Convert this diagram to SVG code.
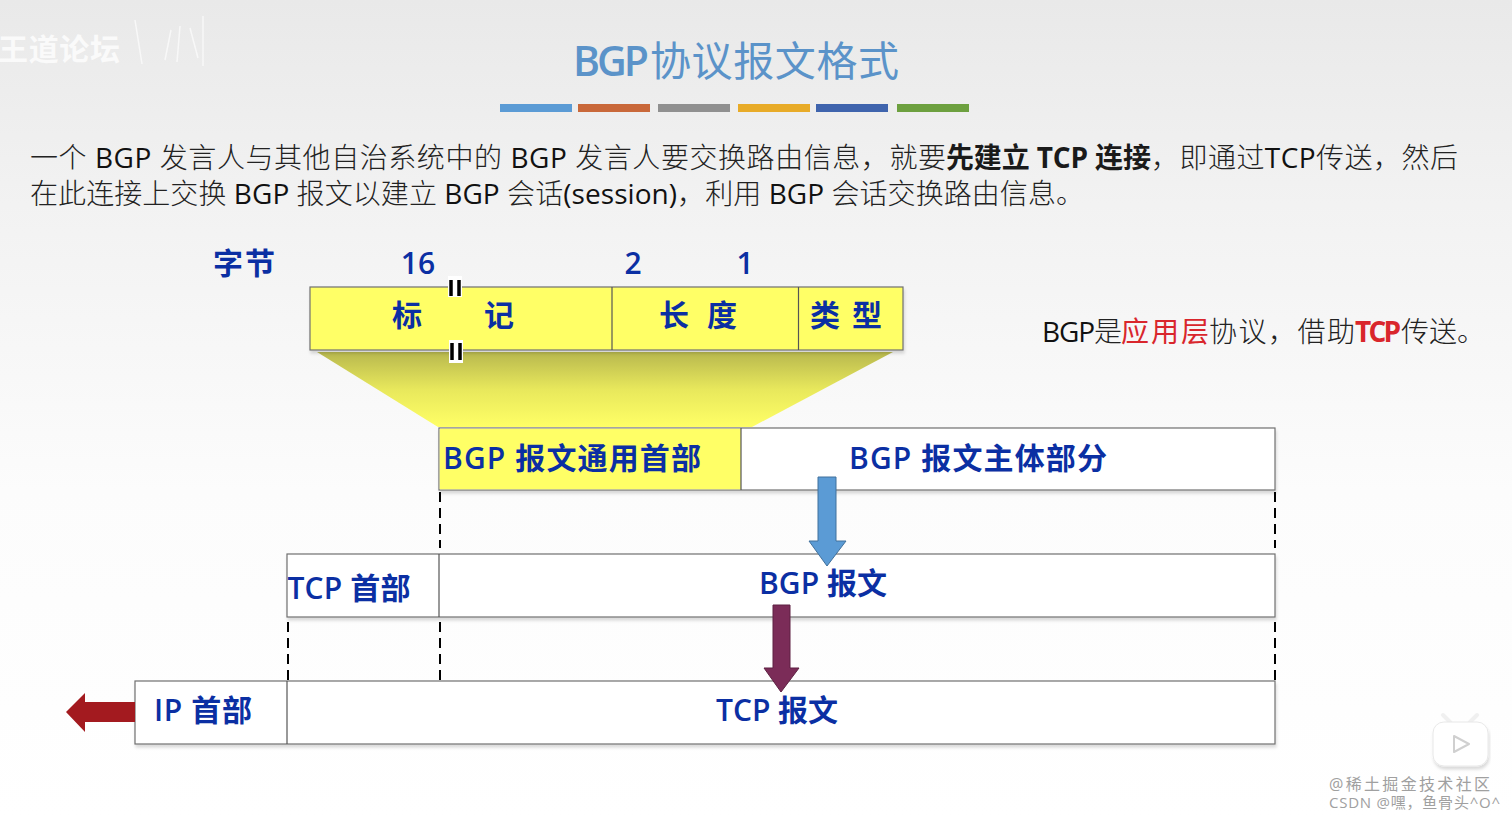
<svg xmlns="http://www.w3.org/2000/svg" width="1512" height="818" viewBox="0 0 1512 818">
<style>
text{font-family:"Open Sans","Noto Sans CJK SC",sans-serif}
.b{fill:#222;font-size:28px;font-weight:300}
.s{fill:#1a1a1a;font-size:28px;font-weight:700}
.lat{font-weight:400;fill:#111}
.l{fill:#0b2fa3;font-size:30px;font-weight:600;text-anchor:middle}
.box{stroke:#707070;stroke-width:1.2;fill:#fff;filter:url(#sh)}
.y{fill:#ffff66}
.d{stroke:#000;stroke-width:2;stroke-dasharray:10 6;fill:none}
.v{stroke:#555;stroke-width:1.2}
.wm{fill:#a0a0a0;font-size:16px}
.tt{font-size:41px;fill:#5b93c9}
</style>
<defs>
<linearGradient id="bg" x1="0" y1="0" x2="0" y2="1"><stop offset="0" stop-color="#e9e9e9"/><stop offset=".25" stop-color="#f2f2f2"/><stop offset=".6" stop-color="#fcfcfc"/><stop offset="1" stop-color="#fff"/></linearGradient>
<linearGradient id="fun" x1="0" y1="0" x2="0" y2="1"><stop offset="0" stop-color="#b8b84e"/><stop offset=".5" stop-color="#e8e85c"/><stop offset="1" stop-color="#ffff66"/></linearGradient>
<filter id="sh" x="-5%" y="-10%" width="110%" height="130%"><feDropShadow dx="1" dy="3" stdDeviation="1.5" flood-color="#000" flood-opacity=".14"/></filter>
</defs>
<rect width="1512" height="818" fill="url(#bg)"/>
<g id="watermark-top"><text x="-2" y="60" font-size="30" font-weight="700" fill="#fafafa" textLength="122">王道论坛</text>
<path d="M135 20l7 44M171 30l-6 30M180 26l-3 36M190 28l8 30M203 16v50" stroke="#f8f8f8" stroke-width="1.500" fill="none"/></g>
<g id="title"><text class="tt" x="573" y="76" font-weight="600" textLength="76">BGP</text><text class="tt" x="650" y="76" font-weight="400" textLength="249">协议报文格式</text>
<rect x="500" y="104" width="72" height="8" fill="#5b9bd5"/><rect x="578" y="104" width="72" height="8" fill="#c9683a"/><rect x="658" y="104" width="72" height="8" fill="#909090"/><rect x="738" y="104" width="72" height="8" fill="#e8ab28"/><rect x="816" y="104" width="72" height="8" fill="#3f64ad"/><rect x="897" y="104" width="72" height="8" fill="#6da03f"/></g>
<g id="intro">
<text class="b" x="30" y="168" textLength="916">一个 <tspan class="lat">BGP</tspan> 发言人与其他自治系统中的 <tspan class="lat">BGP</tspan> 发言人要交换路由信息，就要</text>
<text class="s" x="946" y="168" textLength="205">先建立 TCP 连接</text>
<text class="b" x="1151" y="168" textLength="307">，即通过<tspan class="lat">TCP</tspan>传送，然后</text>
<text class="b" x="30" y="204" textLength="1054">在此连接上交换 <tspan class="lat">BGP</tspan> 报文以建立 <tspan class="lat">BGP</tspan> 会话<tspan class="lat">(session)</tspan>，利用 <tspan class="lat">BGP</tspan> 会话交换路由信息。</text>
</g>
<g id="funnel"><polygon points="317,352 893,352 752,427 438,427" fill="url(#fun)"/></g>
<g id="connectors">
<path class="d" d="M440 492V548M1275 492V548M288 622V680M440 622V680M1275 622V680"/>
</g>
<g id="labels-bytes">
<text class="l" x="244" y="274" textLength="62">字节</text>
<text class="l" x="418" y="274">16</text><text class="l" x="633" y="274">2</text><text class="l" x="745" y="274">1</text>
</g>
<g id="header-fields">
<rect class="box y" x="310" y="287" width="593" height="63"/>
<line class="v" x1="612" y1="287" x2="612" y2="350"/><line class="v" x1="798.500" y1="287" x2="798.500" y2="350"/>
<text class="l" x="407" y="326">标</text><text class="l" x="499" y="326">记</text>
<text class="l" x="698" y="326" textLength="78">长 度</text><text class="l" x="846" y="326" textLength="72">类 型</text>
<rect x="448" y="276" width="14" height="21" fill="#fff"/><path d="M451 280V296M459 280V296" stroke="#000" stroke-width="3.500"/>
<rect x="449" y="340" width="14" height="23" fill="#fff"/><path d="M452 343V360M460 343V360" stroke="#000" stroke-width="3.500"/>
</g>
<g id="bgp-message">
<rect class="box" x="439" y="428" width="836" height="62"/>
<rect x="439.700" y="428.700" width="301.300" height="60.600" fill="#ffff66"/>
<line class="v" x1="741" y1="428" x2="741" y2="490"/>
<text class="l" x="572" y="469" textLength="258">BGP 报文通用首部</text>
<text class="l" x="978" y="469" textLength="258">BGP 报文主体部分</text>
</g>
<g id="tcp-segment">
<rect class="box" x="287" y="554" width="988" height="63"/>
<line class="v" x1="439" y1="554" x2="439" y2="617"/>
<text class="l" x="349" y="599" textLength="123">TCP 首部</text>
<text class="l" x="823" y="594" textLength="128">BGP 报文</text>
</g>
<g id="ip-datagram">
<rect class="box" x="135" y="681" width="1140" height="63"/>
<line class="v" x1="287" y1="681" x2="287" y2="744"/>
<text class="l" x="203" y="721" textLength="98">IP 首部</text>
<text class="l" x="777" y="721" textLength="122">TCP 报文</text>
</g>
<g id="arrows">
<polygon points="818,477 836,477 836,541 846,541 827,566 809,541 818,541" fill="#5b9bd5" stroke="#41719c" stroke-width="1"/>
<polygon points="773,605 790,605 790,668 799,668 781,692 764,668 773,668" fill="#7b2c58" stroke="#5e2142" stroke-width="1"/>
<polygon points="135,702 85,702 85,693 66,712 85,732 85,722 135,722" fill="#a31a1f"/>
</g>
<g id="note">
<text class="b" x="1042" y="342" textLength="80"><tspan class="lat">BGP</tspan>是</text>
<text class="b" x="1121" y="342" style="fill:#d9262c;font-weight:400" textLength="88">应用层</text>
<text class="b" x="1209" y="342" textLength="146">协议，借助</text>
<text class="s" x="1355" y="342" style="fill:#d9262c" textLength="46">TCP</text>
<text class="b" x="1401" y="342" textLength="84">传送。</text>
</g>
<g id="watermark-bottom">
<path d="M1450 722l-7-7M1470 722l7-7" stroke="#f0f0f0" stroke-width="4" stroke-linecap="round"/>
<rect x="1433" y="722" width="55" height="44" rx="11" fill="#fff" stroke="#e8e8e8" filter="url(#sh)"/>
<path d="M1454 736l15 8-15 8z" fill="#fff" stroke="#d0d0d0" stroke-width="2" stroke-linejoin="round"/>
<text class="wm" x="1329" y="790" textLength="161">@稀土掘金技术社区</text>
<text class="wm" x="1329" y="808" style="font-size:15px" textLength="171">CSDN @嘿，鱼骨头^O^</text>
</g>
</svg>
